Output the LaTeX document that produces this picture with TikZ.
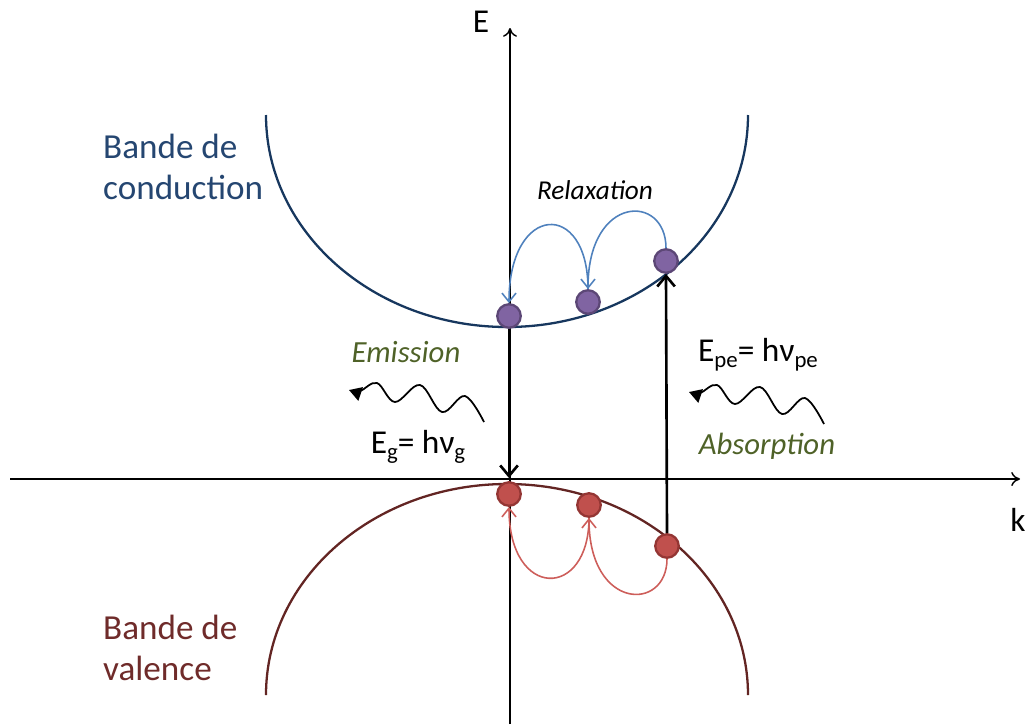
\documentclass[tikz,border=0pt]{standalone}
\usepackage{fontspec}
\setmainfont{Carlito}
\usetikzlibrary{arrows.meta}

\definecolor{condline}{HTML}{17375E}
\definecolor{condtext}{HTML}{254671}
\definecolor{valline}{HTML}{632523}
\definecolor{valtext}{HTML}{6F2B2A}
\definecolor{elecfill}{HTML}{8064A2}
\definecolor{elecdraw}{HTML}{5C4776}
\definecolor{holefill}{HTML}{C0504D}
\definecolor{holedraw}{HTML}{943634}
\definecolor{relaxblue}{HTML}{4F81BD}
\definecolor{relaxred}{HTML}{CD5E5A}
\definecolor{photgreen}{HTML}{4F6228}

\newcommand{\lowsub}[1]{\raisebox{-0.4ex}{\fontsize{13}{13}\selectfont #1}}

\begin{document}
\begin{tikzpicture}[
  x=0.02cm, y=-0.02cm,
  axis/.style={line width=0.8pt, -{To[length=5pt,width=8pt]}},
  band/.style={line width=1.3pt},
  elec/.style={circle, fill=elecfill, draw=elecdraw, line width=1.3pt, minimum size=0.47cm, inner sep=0pt},
  hole/.style={circle, fill=holefill, draw=holedraw, line width=1.3pt, minimum size=0.47cm, inner sep=0pt},
  trans/.style={line width=1.5pt, -{Straight Barb[length=6pt,width=10pt]}},
  hop/.style={line width=0.9pt, -{Straight Barb[length=5pt,width=8pt]}},
  lbl/.style={font=\fontsize{19}{23}\selectfont},
  bandlbl/.style={font=\fontsize{20}{23.3}\selectfont, align=left, anchor=west},
  proc/.style={font=\fontsize{17.5}{21}\selectfont\itshape, text=photgreen},
  photon/.pic={
    \draw[line width=1pt, -{Triangle[length=7pt,width=8pt]}] plot[smooth, tension=0.6]
      coordinates {(0,0) (-19,-26) (-42,-10) (-64,-37) (-89,-20) (-107,-39) (-124,-31) (-135,-32)};
  }
]
\useasboundingbox (0,0) rectangle (1028,724);

% axes
\draw[axis] (510,724) -- (510,28);
\draw[axis] (10,479) -- (1020,479);
\node[lbl] (Elbl) at (481,22) {E};
\node[lbl] (klbl) at (1018,520) {k};

% bands
\draw[band, condline] (266,115) arc[start angle=180, end angle=0, x radius=241, y radius=212];
\draw[band, valline] (266,695) arc[start angle=180, end angle=360, x radius=241, y radius=211];
\node[bandlbl, text=condtext] (cond) at (97,167) {Bande de\\conduction};
\node[bandlbl, text=valtext] (val) at (97,648) {Bande de\\valence};

% carriers
\node[elec] (eL) at (509,316) {};
\node[elec] (eM) at (588,302) {};
\node[elec] (eR) at (666,261) {};
\node[hole] (hL) at (509,494) {};
\node[hole] (hM) at (589,505) {};
\node[hole] (hR) at (667,546) {};
\coordinate (gapbot) at (509,478);

% transitions
\draw[trans] (eL.south) -- (gapbot);
\draw[trans] (hR.north) -- (eR.south);

% relaxation
\draw[hop, relaxblue] (eR.north) .. controls +(0,-55) and +(0,-95) .. (eM.north);
\draw[hop, relaxblue] (eM.north) .. controls +(0,-90) and +(0,-100) .. (eL.north);
\draw[hop, relaxred] (hR.south) .. controls +(0,53) and +(0,93) .. (hM.south);
\draw[hop, relaxred] (hM.south) .. controls +(0,82) and +(0,93) .. (hL.south);
\node[font=\fontsize{15.5}{18}\selectfont\itshape] (relax) at (595,190) {Relaxation};

% photons
\pic at (484,422) {photon};
\pic at (824,424) {photon};
\node[proc] (emis) at (406,352) {Emission};
\node[proc] (abs) at (767,446) {Absorption};
\node[lbl] (Eg) at (418,447) {E\lowsub{g}= hν\lowsub{g}};
\node[lbl] (Epe) at (758,355) {E\lowsub{pe}= hν\lowsub{pe}};
\end{tikzpicture}
\end{document}
